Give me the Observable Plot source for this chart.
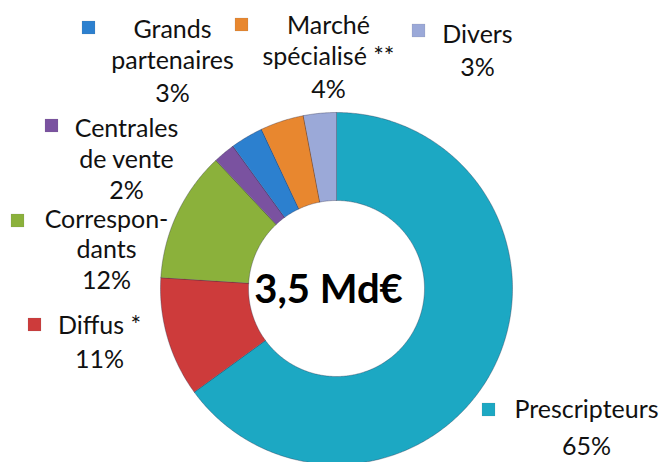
<!DOCTYPE html>
<html>
<head>
<meta charset="utf-8">
<script src="https://cdn.jsdelivr.net/npm/d3@7"></script>
<script src="https://cdn.jsdelivr.net/npm/@observablehq/plot@0.6"></script>
<style>
  html, body { margin: 0; padding: 0; background: #fff; }
  #chart svg { display: block; }
</style>
</head>
<body>
<div id="chart"></div>
<script>
// ---- data ----
const categories = ["Prescripteurs", "Diffus *", "Correspon-\ndants", "Centrales\nde vente", "Grands\npartenaires", "Marché\nspécialisé **", "Divers"];
const shares = [65, 11, 12, 2, 3, 4, 3];
const colors = ["#1ca8c3", "#cd3b3b", "#8bb13b", "#7a52a0", "#2c80cf", "#e8872f", "#9ba9d8"];
const totalLabel = "3,5 Md€";

// ---- layout (pixel space of the 661x462 frame) ----
const W = 661, H = 462;
const center = {x: 336, y: 288};
const rOuter = 176, rInner = 88;
// marker centre, text centre x, baselines of each line
const labelLayout = [
  {mx: 488, my: 409, tx: 586, base: [417, 454]},
  {mx: 34,  my: 324, tx: 99,  base: [333, 367]},
  {mx: 17,  my: 220, tx: 106, base: [227, 257, 288]},
  {mx: 51,  my: 125, tx: 126, base: [136, 167, 198]},
  {mx: 88,  my: 27,  tx: 172, base: [37, 68, 101]},
  {mx: 241, my: 24,  tx: 328, base: [33, 64, 97]},
  {mx: 418, my: 30,  tx: 477, base: [42, 75]}
];

// ---- build slice outlines from the data ----
const items = categories.map((name, i) => ({name, share: shares[i], color: colors[i], i}));
const arcs = d3.pie().sort(null).value(d => d.share).startAngle(0).endAngle(2 * Math.PI)(items);
const slicePoints = [];
for (const a of arcs) {
  const n = Math.max(4, Math.ceil((a.endAngle - a.startAngle) / 0.01));
  const pts = [];
  for (let k = 0; k <= n; k++) {
    const t = a.startAngle + (a.endAngle - a.startAngle) * k / n;
    pts.push({x: center.x + rOuter * Math.sin(t), y: center.y - rOuter * Math.cos(t)});
  }
  for (let k = n; k >= 0; k--) {
    const t = a.startAngle + (a.endAngle - a.startAngle) * k / n;
    pts.push({x: center.x + rInner * Math.sin(t), y: center.y - rInner * Math.cos(t)});
  }
  for (const p of pts) slicePoints.push({...p, name: a.data.name, color: a.data.color});
}

const markers = items.map((d, i) => ({x: labelLayout[i].mx, y: labelLayout[i].my, color: d.color}));
const textRows = [];
items.forEach((d, i) => {
  const lines = d.name.split("\n").concat(`${d.share}%`);
  lines.forEach((t, j) => textRows.push({x: labelLayout[i].tx, y: labelLayout[i].base[j], text: t}));
});

const chart = Plot.plot({
  width: W,
  height: H,
  margin: 0,
  x: {domain: [0, W], range: [0, W], axis: null},
  y: {domain: [0, H], range: [0, H], axis: null},
  style: {fontFamily: "Lato, 'Open Sans', sans-serif", background: "#fff"},
  marks: [
    Plot.line(slicePoints, {
      x: "x", y: "y", z: "name", fill: "color", stroke: "rgba(40,40,70,0.35)", strokeWidth: 1,
      curve: "linear-closed"
    }),
    Plot.dot(markers, {x: "x", y: "y", fill: "color", symbol: "square", r: 7.3, stroke: "rgba(0,0,0,0.15)", strokeWidth: 0.5}),
    Plot.text(textRows, {x: "x", y: "y", text: "text", textAnchor: "middle", lineAnchor: "bottom", fontSize: 25, fill: "#111"}),
    Plot.text([totalLabel], {x: () => center.x - 8, y: () => center.y + 14, text: d => d, textAnchor: "middle", lineAnchor: "bottom", fontSize: 40, fontWeight: "bold", fill: "#000"})
  ]
});
document.getElementById("chart").appendChild(chart);
</script>
</body>
</html>
